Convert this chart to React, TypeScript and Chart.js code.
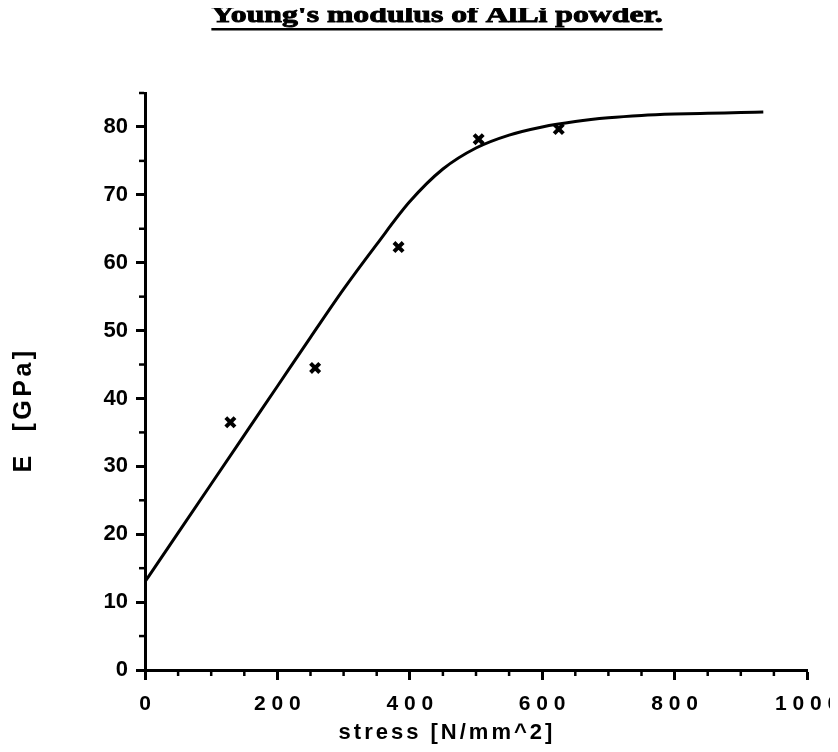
import React, { useEffect, useRef } from "react";
import { Chart, registerables } from "chart.js";

Chart.register(...registerables);

const TITLE = "Young's modulus of AlLi powder.";
const X_TITLE = "stress [N/mm^2]";
const Y_TITLE = "E  [GPa]";

// measured points (crosses)
const POINT_X = [129, 257, 383, 504, 625];
const POINT_Y = [36.5, 44.5, 62.3, 78.2, 79.7];

// fitted curve
const CURVE_X = [0, 50, 100, 150, 200, 250, 300, 350, 400, 450, 500, 550, 600, 650, 700, 750, 800, 850, 900, 934];
const CURVE_Y = [13, 20.2, 27.4, 34.6, 41.8, 49.0, 56.1, 62.7, 69.0, 73.8, 76.9, 78.8, 80.0, 80.8, 81.35, 81.7, 81.9, 82.02, 82.12, 82.2];

const X_MIN = 0;
const X_MAX = 1000;
const X_MAJOR = 200;
const X_MINOR = 50;
const Y_MIN = 0;
const Y_MAX = 85;
const Y_MAJOR = 10;
const Y_MINOR = 5;

const W = 822;
const H = 736;

const overlayPlugin = {
  id: "overlay",
  afterDraw(chart: any) {
    const ctx = chart.ctx as CanvasRenderingContext2D;
    const xs = chart.scales.x;
    const ys = chart.scales.y;
    const area = chart.chartArea;
    ctx.save();
    ctx.strokeStyle = "#000";
    ctx.lineWidth = 2.5;
    // minor ticks on y
    for (let v = Y_MIN; v <= Y_MAX + 1e-9; v += Y_MINOR) {
      if (Math.abs(v % Y_MAJOR) < 1e-9) continue;
      const py = ys.getPixelForValue(v);
      ctx.beginPath();
      ctx.moveTo(area.left - 1, py);
      ctx.lineTo(area.left - 6, py);
      ctx.stroke();
    }
    // minor ticks on x
    for (let v = X_MIN; v <= X_MAX + 1e-9; v += X_MINOR) {
      if (Math.abs(v % X_MAJOR) < 1e-9) continue;
      const px = xs.getPixelForValue(v);
      ctx.beginPath();
      ctx.moveTo(px, area.bottom + 1);
      ctx.lineTo(px, area.bottom + 6);
      ctx.stroke();
    }
    ctx.restore();

    // title
    ctx.save();
    ctx.fillStyle = "#000";
    ctx.strokeStyle = "#000";
    ctx.lineWidth = 0.9;
    ctx.translate(429, 14);
    ctx.scale(1.38, 1);
    ctx.font = 'bold 23px "Liberation Serif", serif';
    ctx.textAlign = "center";
    ctx.textBaseline = "alphabetic";
    ctx.fillText(TITLE, 0, 0);
    ctx.strokeText(TITLE, 0, 0);
    const tw = ctx.measureText(TITLE).width;
    ctx.fillRect(-tw / 2, 6, tw, 2.5);
    ctx.restore();

    // x title
    ctx.save();
    ctx.fillStyle = "#000";
    ctx.font = 'bold 22px "Liberation Sans", Arial, sans-serif';
    (ctx as any).letterSpacing = "3px";
    ctx.textAlign = "center";
    ctx.textBaseline = "middle";
    ctx.fillText(X_TITLE, 439, 725);
    ctx.restore();

    // y title
    ctx.save();
    ctx.fillStyle = "#000";
    ctx.font = 'bold 25px "Liberation Sans", Arial, sans-serif';
    (ctx as any).letterSpacing = "3.5px";
    ctx.translate(16, 402);
    ctx.rotate(-Math.PI / 2);
    ctx.textAlign = "center";
    ctx.textBaseline = "middle";
    ctx.fillText(Y_TITLE, 0, 0);
    ctx.restore();
  },
};

export default function App() {
  const ref = useRef<HTMLCanvasElement | null>(null);

  useEffect(() => {
    if (!ref.current) return;
    Chart.defaults.font.family = '"Liberation Sans", Arial, sans-serif';
    const curve = CURVE_X.map((x, i) => ({ x, y: CURVE_Y[i] }));
    const pts = POINT_X.map((x, i) => ({ x, y: POINT_Y[i] }));
    const chart = new Chart(ref.current, {
      type: "scatter",
      data: {
        datasets: [
          {
            label: "fit",
            data: curve,
            showLine: true,
            borderColor: "#000",
            backgroundColor: "#000",
            borderWidth: 3,
            pointRadius: 0,
            cubicInterpolationMode: "monotone",
          } as any,
          {
            label: "E",
            data: pts,
            showLine: false,
            pointStyle: "crossRot",
            pointRadius: 6.5,
            borderColor: "#000",
            backgroundColor: "#000",
            pointBorderWidth: 4,
          } as any,
        ],
      },
      options: {
        responsive: false,
        animation: false,
        layout: { padding: { top: 85, right: 23, left: 0, bottom: 0 } },
        plugins: {
          legend: { display: false },
          tooltip: { enabled: false },
          title: { display: false },
        },
        scales: {
          x: {
            type: "linear",
            min: X_MIN,
            max: X_MAX,
            afterBuildTicks: (s: any) => {
              s.ticks = s.ticks.filter((t: any) => Math.abs(t.value % X_MAJOR) < 1e-9);
            },
            afterFit: (s: any) => {
              s.height = 74;
              s.paddingLeft = 0;
              s.paddingRight = 0;
            },
            ticks: {
              stepSize: X_MAJOR,
              color: "#000",
              padding: 12,
              maxRotation: 0,
              autoSkip: false,
              font: { size: 21, weight: "bold" },
              callback: (v: any) => String(v).split("").join(" "),
            },
            grid: {
              display: true,
              drawOnChartArea: false,
              drawTicks: true,
              tickLength: 10,
              tickWidth: 3,
              tickColor: "#000",
              color: "#000",
            },
            border: { display: true, color: "#000", width: 3 },
          },
          y: {
            type: "linear",
            min: Y_MIN,
            max: Y_MAX,
            afterBuildTicks: (s: any) => {
              s.ticks = s.ticks.filter((t: any) => Math.abs(t.value % Y_MAJOR) < 1e-9);
            },
            afterFit: (s: any) => {
              s.width = 137;
              s.paddingTop = 0;
              s.paddingBottom = 0;
            },
            ticks: {
              stepSize: Y_MAJOR,
              color: "#000",
              padding: 8,
              autoSkip: false,
              font: { size: 22, weight: "bold" },
            },
            grid: {
              display: true,
              drawOnChartArea: false,
              drawTicks: true,
              tickLength: 9,
              tickWidth: 3,
              tickColor: "#000",
              color: "#000",
            },
            border: { display: true, color: "#000", width: 3 },
          },
        },
      } as any,
      plugins: [overlayPlugin],
    });
    return () => chart.destroy();
  }, []);

  return (
    <div style={{ width: W, height: H, position: "relative", background: "#fff" }}>
      <canvas ref={ref} width={W} height={H} style={{ width: W, height: H, display: "block" }} />
    </div>
  );
}
